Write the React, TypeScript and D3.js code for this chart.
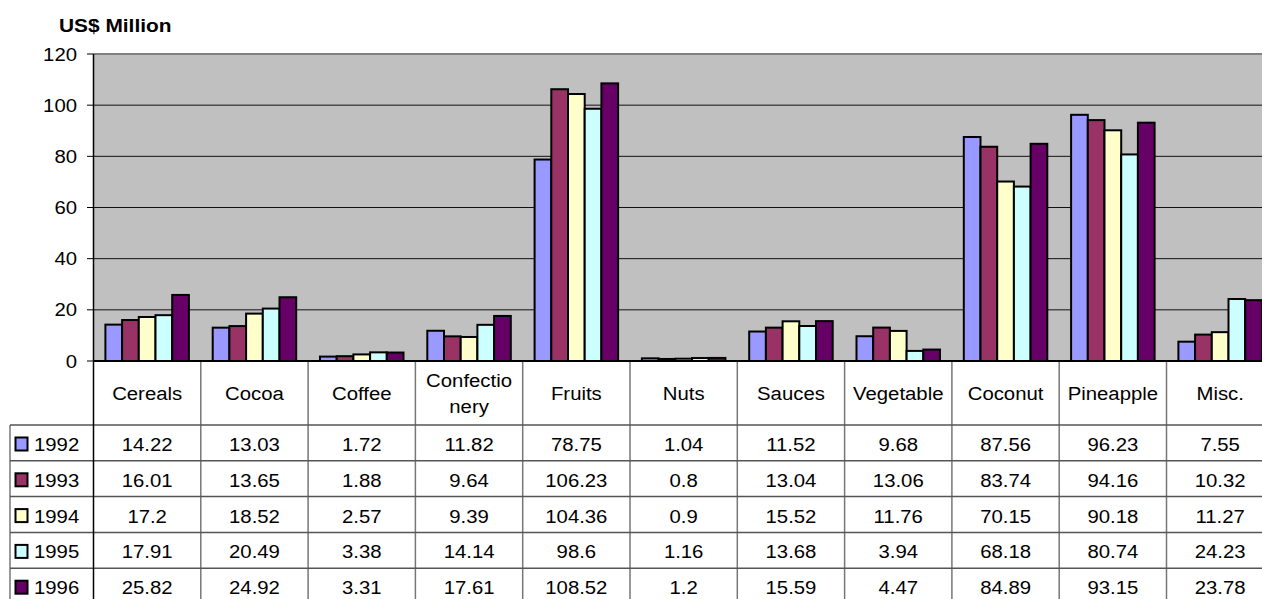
import React from 'react';
import * as d3 from 'd3';

const categories = ['Cereals', 'Cocoa', 'Coffee', 'Confectionery', 'Fruits', 'Nuts', 'Sauces', 'Vegetable', 'Coconut', 'Pineapple', 'Misc.'];
const years = ['1992', '1993', '1994', '1995', '1996'];
const v1992 = [14.22, 13.03, 1.72, 11.82, 78.75, 1.04, 11.52, 9.68, 87.56, 96.23, 7.55];
const v1993 = [16.01, 13.65, 1.88, 9.64, 106.23, 0.8, 13.04, 13.06, 83.74, 94.16, 10.32];
const v1994 = [17.2, 18.52, 2.57, 9.39, 104.36, 0.9, 15.52, 11.76, 70.15, 90.18, 11.27];
const v1995 = [17.91, 20.49, 3.38, 14.14, 98.6, 1.16, 13.68, 3.94, 68.18, 80.74, 24.23];
const v1996 = [25.82, 24.92, 3.31, 17.61, 108.52, 1.2, 15.59, 4.47, 84.89, 93.15, 23.78];
const series = [v1992, v1993, v1994, v1995, v1996];
const colors = ['#9999FF', '#993366', '#FFFFCC', '#CCFFFF', '#660066'];
const yTicks = [0, 20, 40, 60, 80, 100, 120];

const W = 1262;
const H = 599;
const left = 93.5;
const band = 107.3;
const top = 54;
const base = 361;
const headerBottom = 425;
const rowH = 35.8;
const legendLeft = 10;

const FONT = '"Liberation Sans", Arial, sans-serif';

// text is slightly wider than tall in the reference, so stretch it a bit
const T = ({ x, y, anchor = 'middle', size = 18, bold = false, children }: any) => (
  <text
    transform={`translate(${x},${y}) scale(1.13,1)`}
    textAnchor={anchor}
    fontFamily={FONT}
    fontSize={size}
    fontWeight={bold ? 'bold' : 'normal'}
    fill="#000"
  >
    {children}
  </text>
);

const wrap = (s: string) => (s.length > 10 ? [s.slice(0, 9), s.slice(9)] : [s]);

export default function App() {
  const x = d3.scaleBand<string>().domain(categories).range([left, left + band * categories.length]).paddingInner(0);
  const x1 = d3.scaleBand<string>().domain(years).range([11.9, 95.4]);
  const y = d3.scaleLinear().domain([0, 120]).range([base, top]);
  const plotRight = left + band * categories.length;
  const tableBottom = headerBottom + rowH * years.length;

  return (
    <div style={{ position: 'fixed', left: 0, top: 0, width: W, height: H, overflow: 'hidden', background: '#fff' }}>
      <svg width={W} height={H} style={{ display: 'block' }}>
        <T x={59} y={32} anchor="start" size={18.5} bold>US$ Million</T>

        {/* plot area */}
        <rect x={left} y={top} width={plotRight - left} height={base - top} fill="#C0C0C0" />
        {yTicks.filter(t => t > 0 && t < 120).map(t => (
          <line key={t} x1={left} x2={plotRight} y1={y(t)} y2={y(t)} stroke="#111" strokeWidth={1} />
        ))}
        <line x1={left} x2={plotRight} y1={top} y2={top} stroke="#808080" strokeWidth={2} />

        {/* bars */}
        {categories.map((c, i) => (
          <g key={c} transform={`translate(${x(c)},0)`}>
            {series.map((s, j) => (
              <rect
                key={j}
                x={x1(years[j])}
                y={y(s[i])}
                width={x1.bandwidth()}
                height={base - y(s[i])}
                fill={colors[j]}
                stroke="#000"
                strokeWidth={2}
              />
            ))}
          </g>
        ))}

        {/* y axis */}
        {yTicks.map(t => (
          <g key={t}>
            <line x1={87} x2={left} y1={y(t)} y2={y(t)} stroke="#000" strokeWidth={1} />
            <T x={77} y={y(t) + 6.5} anchor="end">{t}</T>
          </g>
        ))}

        {/* data table */}
        {categories.map((c, i) => (
          <line key={c} x1={x(c)! + band} x2={x(c)! + band} y1={base} y2={tableBottom} stroke="#777" strokeWidth={1.5} />
        ))}
        <line x1={legendLeft} x2={legendLeft} y1={headerBottom} y2={tableBottom} stroke="#777" strokeWidth={1.5} />
        {years.map((yr, j) => (
          <line key={yr} x1={legendLeft} x2={plotRight} y1={headerBottom + rowH * j} y2={headerBottom + rowH * j} stroke="#555" strokeWidth={1.5} />
        ))}
        <line x1={legendLeft} x2={plotRight} y1={tableBottom} y2={tableBottom} stroke="#555" strokeWidth={1.5} />

        {categories.map(c => {
          const lines = wrap(c);
          const cx = x(c)! + band / 2;
          return lines.length === 1 ? (
            <T key={c} x={cx} y={399.5}>{c}</T>
          ) : (
            <g key={c}>
              <T x={cx} y={387}>{lines[0]}</T>
              <T x={cx} y={413}>{lines[1]}</T>
            </g>
          );
        })}

        {years.map((yr, j) => {
          const ry = headerBottom + rowH * j;
          return (
            <g key={yr}>
              <rect x={15.5} y={ry + 12.5} width={12} height={13} fill={colors[j]} stroke="#000" strokeWidth={2} />
              <T x={34} y={ry + 26} anchor="start">{yr}</T>
              {categories.map((c, i) => (
                <T key={c} x={x(c)! + band / 2} y={ry + 26}>{String(series[j][i])}</T>
              ))}
            </g>
          );
        })}

        {/* axes lines */}
        <line x1={left} x2={left} y1={top} y2={H} stroke="#000" strokeWidth={1.5} />
        <line x1={left} x2={plotRight} y1={base} y2={base} stroke="#000" strokeWidth={2} />
      </svg>
    </div>
  );
}
